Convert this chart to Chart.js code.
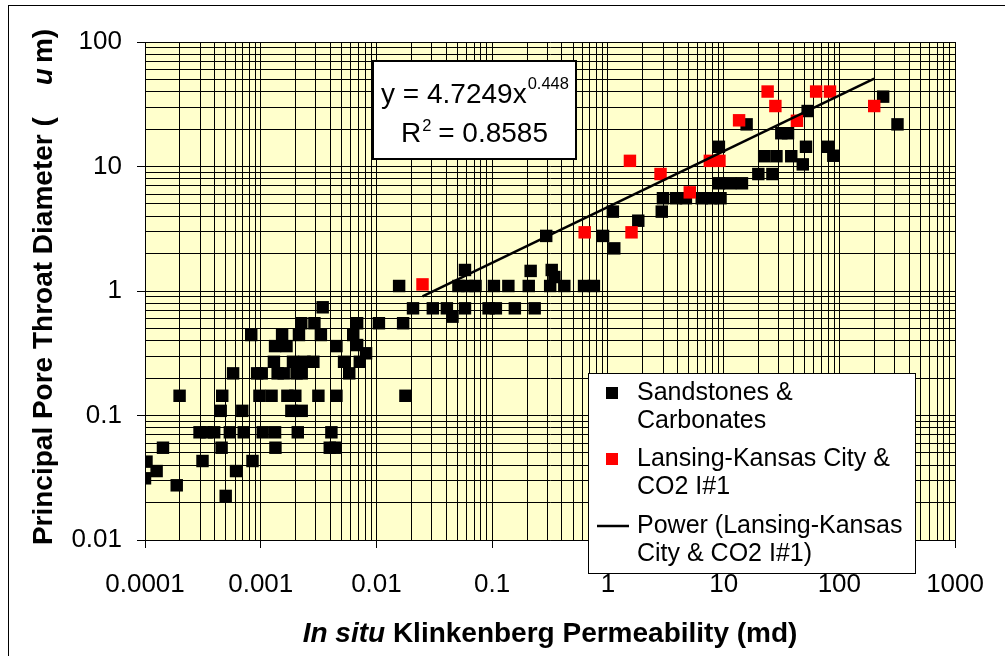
<!DOCTYPE html>
<html lang="en">
<head>
<meta charset="UTF-8">
<title>Pore Throat Diameter vs Permeability</title>
<script src="https://cdn.jsdelivr.net/npm/chart.js"></script>
<style>
  html, body { margin: 0; padding: 0; background: #fff; }
  #wrap { width: 1005px; height: 656px; }
</style>
</head>
<body>
<div id="wrap"><canvas id="poreChart" width="1005" height="656"></canvas></div>
<script>
// in situ Klinkenberg permeability (md) / principal pore throat diameter (um)
const sandPerm = [0.000103, 0.000126, 0.0001, 0.000143, 0.000188, 0.000199, 0.000296, 0.000341, 0.000396, 0.000314,
  0.000451, 0.000459, 0.000465, 0.000498, 0.000541, 0.000577, 0.000612, 0.000693, 0.000713, 0.000828,
  0.000849, 0.000931, 0.00102, 0.000975, 0.00124, 0.00104, 0.00133, 0.00134, 0.0013, 0.00133,
  0.00167, 0.0014, 0.00158, 0.00153, 0.0017, 0.00199, 0.00184, 0.00226, 0.0019, 0.00204,
  0.00226, 0.00209, 0.00214, 0.00224, 0.00239, 0.00285, 0.00291, 0.00315, 0.00331, 0.00343,
  0.00408, 0.00395, 0.00445, 0.00451, 0.00451, 0.00525, 0.00582, 0.0063, 0.00681, 0.00681,
  0.00718, 0.00813, 0.0105, 0.017, 0.0157, 0.0178, 0.0207, 0.0307, 0.0406, 0.0454,
  0.0582, 0.0511, 0.061, 0.0718, 0.0582, 0.0931, 0.1076, 0.1035, 0.138, 0.157,
  0.233, 0.207, 0.215, 0.327, 0.345, 0.317, 0.42, 0.622, 0.757, 0.293,
  0.908, 1.135, 1.104, 1.83, 2.92, 2.99, 3.88, 4.72, 6.47, 7.82,
  9.4, 9.1, 11.4, 14.4, 19.95, 26.4, 9.1, 22.4, 28.6, 38.4,
  48.3, 51.5, 31.5, 36, 15.8, 53.2, 79.8, 88.7, 239, 318];
const sandPore = [0.0426, 0.0358, 0.0313, 0.0551, 0.0275, 0.144, 0.0733, 0.0733, 0.0733, 0.0431,
  0.109, 0.0551, 0.144, 0.0226, 0.0733, 0.218, 0.0358, 0.109, 0.0733, 0.443,
  0.0431, 0.218, 0.218, 0.144, 0.144, 0.0733, 0.0733, 0.0551, 0.27, 0.361,
  0.361, 0.218, 0.218, 0.443, 0.144, 0.144, 0.109, 0.109, 0.27, 0.218,
  0.218, 0.0733, 0.443, 0.551, 0.27, 0.27, 0.551, 0.144, 0.443, 0.74,
  0.0733, 0.0551, 0.0551, 0.361, 0.144, 0.27, 0.218, 0.443, 0.551, 0.368,
  0.27, 0.316, 0.551, 0.551, 1.097, 0.144, 0.726, 0.726, 0.726, 0.622,
  0.726, 1.097, 1.097, 1.097, 1.475, 0.726, 0.726, 1.097, 1.097, 0.726,
  0.726, 1.097, 1.45, 1.475, 1.295, 1.097, 1.097, 1.097, 1.097, 2.77,
  2.77, 2.2, 4.34, 3.67, 4.34, 5.56, 5.56, 5.56, 5.56, 5.56,
  5.56, 7.33, 7.33, 7.33, 8.7, 8.7, 14.4, 12.1, 12.1, 12.1,
  10.4, 14.4, 18.5, 18.5, 21.8, 27.9, 14.4, 12.2, 36.4, 21.8];

const lkcPerm = [0.025, 0.63, 1.55, 1.6, 2.85, 5.1, 7.6, 9.2, 13.6, 24, 28, 43, 63, 83, 200];
const lkcPore = [1.13, 2.96, 11.1, 2.96, 8.7, 6.2, 11.1, 11.1, 23.5, 40, 30.6, 23.3, 40, 40, 30.6];

// power trend line shown on the chart
const fitCoef = 4.7249;
const fitExp = 0.448;
const fitR2 = 0.8585;

const xTickLabels = ['0.0001', '0.001', '0.01', '0.1', '1', '10', '100', '1000'];
const yTickLabels = ['0.01', '0.1', '1', '10', '100'];
const seriesNames = ['Sandstones & Carbonates', 'Lansing-Kansas City & CO2 I#1', 'Power (Lansing-Kansas City & CO2 I#1)'];

const FONT = "'Liberation Sans', Arial, sans-serif";

// 1..9 x 10^n grid ticks, labels only on the powers of ten
function decadeTicks(labels) {
  const out = [];
  labels.forEach((lab, i) => {
    const base = Number(lab);
    const n = i === labels.length - 1 ? 1 : 9;
    for (let k = 1; k <= n; k++) {
      out.push({ value: k * base, major: k === 1, label: k === 1 ? lab : '' });
    }
  });
  return out;
}
const xTicks = decadeTicks(xTickLabels);
const yTicks = decadeTicks(yTickLabels);

const sandPts = sandPerm.map((x, i) => ({ x: x, y: sandPore[i] }));
const lkcPts = lkcPerm.map((x, i) => ({ x: x, y: lkcPore[i] }));
const xLo = Math.min(...lkcPerm), xHi = Math.max(...lkcPerm);
const trendPts = [xLo, xHi].map(x => ({ x: x, y: fitCoef * Math.pow(x, fitExp) }));

const plotBg = {
  id: 'plotBg',
  beforeDraw(chart) {
    const a = chart.chartArea, ctx = chart.ctx;
    ctx.save();
    ctx.fillStyle = '#FFFFCC';
    ctx.fillRect(a.left, a.top, a.right - a.left, a.bottom - a.top);
    ctx.restore();
  }
};

function wrapText(ctx, text, maxW) {
  const words = text.split(' ');
  const lines = [];
  let cur = '';
  words.forEach(w => {
    const t = cur ? cur + ' ' + w : w;
    if (ctx.measureText(t).width > maxW && cur) { lines.push(cur); cur = w; }
    else cur = t;
  });
  if (cur) lines.push(cur);
  return lines;
}

const extras = {
  id: 'extras',
  afterDraw(chart) {
    const ctx = chart.ctx;
    const a = chart.chartArea;
    ctx.save();

    // outer frame
    ctx.strokeStyle = '#000';
    ctx.lineWidth = 1;
    ctx.strokeRect(8.5, 5.5, 1100, 1000);

    // equation box
    ctx.fillStyle = '#fff';
    ctx.fillRect(373, 61, 203, 98);
    ctx.lineWidth = 2;
    ctx.strokeRect(373, 61, 203, 98);
    ctx.fillStyle = '#000';
    ctx.textBaseline = 'alphabetic';
    ctx.textAlign = 'left';
    const big = '28px ' + FONT, small = '16.5px ' + FONT;
    const eq = 'y = ' + fitCoef + 'x', eqSup = String(fitExp);
    ctx.font = big; const w1 = ctx.measureText(eq).width;
    ctx.font = small; const w2 = ctx.measureText(eqSup).width;
    let sx = 474.5 - (w1 + w2) / 2;
    ctx.font = big; ctx.fillText(eq, sx, 103);
    ctx.font = small; ctx.fillText(eqSup, sx + w1 + 1, 89);
    const r2 = ' = ' + fitR2;
    ctx.font = big; const wr = ctx.measureText('R').width, wr2 = ctx.measureText(r2).width;
    ctx.font = small; const ws = ctx.measureText('2').width;
    sx = 474.5 - (wr + ws + wr2) / 2;
    ctx.font = big; ctx.fillText('R', sx, 142);
    ctx.font = small; ctx.fillText('2', sx + wr + 1, 131);
    ctx.font = big; ctx.fillText(r2, sx + wr + ws, 142);

    // legend
    ctx.fillStyle = '#fff';
    ctx.fillRect(588, 373, 327, 200);
    ctx.lineWidth = 1;
    ctx.strokeRect(588.5, 373.5, 327, 200);
    ctx.font = '25px ' + FONT;
    ctx.textBaseline = 'middle';
    const rows = [393, 459, 526];
    const lineGap = 28.5;
    chart.data.datasets.forEach((ds, i) => {
      const y = rows[i];
      if (ds.showLine) {
        ctx.strokeStyle = ds.borderColor;
        ctx.lineWidth = 2.5;
        ctx.beginPath(); ctx.moveTo(597, y); ctx.lineTo(629, y); ctx.stroke();
      } else {
        ctx.fillStyle = ds.backgroundColor;
        ctx.fillRect(606, y - 6, 12, 12);
      }
      ctx.fillStyle = '#000';
      wrapText(ctx, ds.label, 280).forEach((ln, j) => ctx.fillText(ln, 637, y + j * lineGap));
    });

    // y axis title
    ctx.save();
    ctx.translate(44, 287);
    ctx.rotate(-Math.PI / 2);
    const yParts = [
      ['Principal Pore Throat Diameter (', 'bold 28px ' + FONT, 32],
      ['u', 'italic bold 28px ' + FONT, 5],
      ['m)', 'bold 28px ' + FONT, 0]
    ];
    let tot = 0;
    yParts.forEach(p => { ctx.font = p[1]; tot += ctx.measureText(p[0]).width + p[2]; });
    let px = -tot / 2;
    yParts.forEach(p => { ctx.font = p[1]; ctx.fillText(p[0], px, 0); px += ctx.measureText(p[0]).width + p[2]; });
    ctx.restore();

    // x axis title
    const xParts = [
      ['In situ', 'italic bold 28px ' + FONT],
      [' Klinkenberg Permeability (md)', 'bold 28px ' + FONT]
    ];
    tot = 0;
    xParts.forEach(p => { ctx.font = p[1]; tot += ctx.measureText(p[0]).width; });
    px = (a.left + a.right) / 2 - tot / 2;
    xParts.forEach(p => { ctx.font = p[1]; ctx.fillText(p[0], px, 634); px += ctx.measureText(p[0]).width; });

    ctx.restore();
  }
};

function logAxis(ticks, labels, fit) {
  return {
    type: 'logarithmic',
    min: Number(labels[0]),
    max: Number(labels[labels.length - 1]),
    afterBuildTicks: s => { s.ticks = ticks.map(t => ({ value: t.value, major: t.major })); },
    afterFit: fit,
    border: { color: '#000', width: 1 },
    grid: {
      color: '#000',
      lineWidth: 1,
      tickLength: 8,
      tickColor: c => (c.tick && c.tick.major ? '#000' : 'rgba(0,0,0,0)')
    },
    ticks: {
      autoSkip: false,
      maxRotation: 0,
      color: '#000',
      font: { size: 26, family: FONT },
      callback: (v, i) => ticks[i] ? ticks[i].label : ''
    }
  };
}

const xAxis = logAxis(xTicks, xTickLabels, s => { s.height = 116; });
xAxis.ticks.padding = 21;
const yAxis = logAxis(yTicks, yTickLabels, s => { s.width = 145; });
yAxis.ticks.padding = 15;

new Chart(document.getElementById('poreChart'), {
  type: 'scatter',
  data: {
    datasets: [
      {
        label: seriesNames[0], data: sandPts, order: 2,
        pointStyle: 'rect', pointRadius: 8.8, pointHoverRadius: 8.8,
        backgroundColor: '#000', borderColor: '#000', borderWidth: 0
      },
      {
        label: seriesNames[1], data: lkcPts, order: 1,
        pointStyle: 'rect', pointRadius: 8.8, pointHoverRadius: 8.8,
        backgroundColor: '#FF0000', borderColor: '#FF0000', borderWidth: 0
      },
      {
        label: seriesNames[2], data: trendPts, order: 0, showLine: true,
        pointRadius: 0, borderColor: '#000', borderWidth: 2.5, fill: false
      }
    ]
  },
  options: {
    responsive: false,
    devicePixelRatio: 1,
    animation: false,
    layout: { padding: { left: 0, top: 42, right: 39, bottom: 0 } },
    plugins: { legend: { display: false }, tooltip: { enabled: false } },
    scales: { x: xAxis, y: yAxis }
  },
  plugins: [plotBg, extras]
});
</script>
</body>
</html>
